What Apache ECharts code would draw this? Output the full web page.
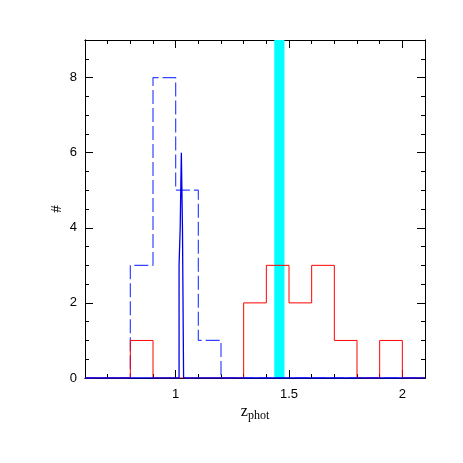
<!DOCTYPE html>
<html>
<head>
<meta charset="utf-8">
<script src="https://cdn.jsdelivr.net/npm/echarts@6/dist/echarts.min.js"></script>
<style>
  html, body { margin: 0; padding: 0; background: #fff; }
  #chart { width: 463px; height: 463px; }
</style>
</head>
<body>
<div id="chart"></div>
<script>
// bins of 0.1 from 0.6 to 2.1
var binStart = 0.6;
var binWidth = 0.1;
var redCounts  = [0, 0, 1, 0, 0, 0, 0, 2, 3, 2, 3, 1, 0, 1, 0];
var blueDashedCounts = [0, 0, 3, 8, 5, 1, 0, 0, 0, 0, 0, 0, 0, 0, 0];
// fine histogram near z=1
var fineEdges = [1.015, 1.02, 1.025, 1.03, 1.035];
var fineCounts = [3, 4, 6, 4];
// highlighted redshift band
var bandRange = [1.435, 1.48];
var xMajorTicks = [1, 1.5, 2];
var yMajorTicks = [0, 2, 4, 6, 8];

var xMin = 0.6, xMax = 2.1, yMin = 0, yMax = 9;

// turn bin counts into step points
function stepPoints(edges, counts) {
  var pts = [[xMin, 0]];
  for (var i = 0; i < counts.length; i++) pts.push([edges[i], counts[i]]);
  pts.push([edges[counts.length], 0]);
  pts.push([xMax, 0]);
  return pts;
}
function regularEdges(n) {
  var e = [];
  for (var i = 0; i <= n; i++) e.push(+(binStart + i * binWidth).toFixed(3));
  return e;
}

var chart = echarts.init(document.getElementById('chart'));

var tickFont = { fontFamily: 'Liberation Sans', fontSize: 13, color: '#000' };
var lineBlack = { color: '#000', width: 1 };

function xAx(pos, major, showLabel) {
  return {
    type: 'value', position: pos, min: xMin, max: xMax,
    interval: major ? undefined : 0.1,
    axisLine: { show: true, onZero: false, lineStyle: lineBlack },
    axisTick: major
      ? { show: true, inside: true, length: 8, customValues: xMajorTicks, lineStyle: { color: '#000' } }
      : { show: true, inside: true, length: 4, lineStyle: { color: '#000' } },
    axisLabel: showLabel
      ? Object.assign({ show: true, margin: 10, customValues: xMajorTicks }, tickFont)
      : { show: false },
    splitLine: { show: false }
  };
}
function yAx(pos, major, showLabel) {
  return {
    type: 'value', position: pos, min: yMin, max: yMax,
    interval: major ? undefined : 0.5,
    axisLine: { show: true, onZero: false, lineStyle: lineBlack },
    axisTick: major
      ? { show: true, inside: true, length: 8, customValues: yMajorTicks, lineStyle: { color: '#000' } }
      : { show: true, inside: true, length: 4, lineStyle: { color: '#000' } },
    axisLabel: showLabel
      ? Object.assign({ show: true, margin: 8, customValues: yMajorTicks }, tickFont)
      : { show: false },
    splitLine: { show: false }
  };
}

var xAxes = [xAx('bottom', true, true), xAx('bottom', false, false), xAx('top', true, false), xAx('top', false, false)];
xAxes[0].name = '{z|z}{s|phot}';
xAxes[0].nameLocation = 'middle';
xAxes[0].nameGap = 24;
xAxes[0].nameMoveOverlap = false;
xAxes[0].nameTextStyle = {
  rich: {
    z: { fontFamily: 'Liberation Serif', fontSize: 16, color: '#000' },
    s: { fontFamily: 'Liberation Serif', fontSize: 12, color: '#000', padding: [8, 0, 0, 0] }
  }
};
var yAxes = [yAx('left', true, true), yAx('left', false, false), yAx('right', true, false), yAx('right', false, false)];
yAxes[0].name = '#';
yAxes[0].nameLocation = 'middle';
yAxes[0].nameGap = 20;
yAxes[0].nameRotate = 90;
yAxes[0].nameMoveOverlap = false;
yAxes[0].nameTextStyle = { fontFamily: 'Liberation Serif', fontSize: 15, color: '#000' };

var edges = regularEdges(redCounts.length);

chart.setOption({
  animation: false,
  grid: { left: 85, top: 40, width: 340, height: 338 },
  xAxis: xAxes,
  yAxis: yAxes,
  series: [
    {
      type: 'line', step: 'end', symbol: 'none',
      data: stepPoints(edges, blueDashedCounts),
      lineStyle: { color: '#3344ff', width: 1.2, type: [14, 4] },
      z: 2
    },
    {
      type: 'line', step: 'end', symbol: 'none',
      data: stepPoints(edges, redCounts),
      lineStyle: { color: '#ff0000', width: 1 },
      z: 3
    },
    {
      type: 'line', step: 'end', symbol: 'none',
      data: stepPoints(fineEdges, fineCounts),
      lineStyle: { color: '#0000ee', width: 1.3 },
      z: 4
    },
    {
      type: 'line', data: [], symbol: 'none', z: 10,
      markArea: {
        silent: true,
        itemStyle: { color: '#00ffff', opacity: 1 },
        data: [[{ xAxis: bandRange[0], yAxis: yMin }, { xAxis: bandRange[1], yAxis: yMax }]]
      }
    }
  ]
});
</script>
</body>
</html>
